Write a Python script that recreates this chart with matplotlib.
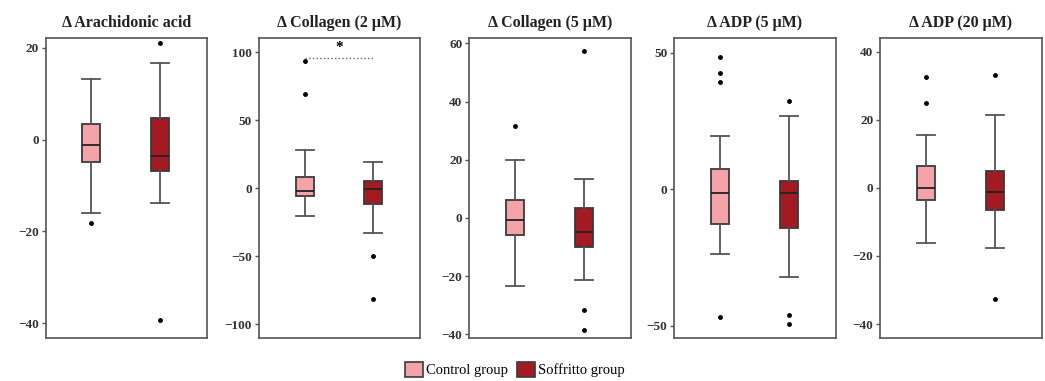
import matplotlib.pyplot as plt
from matplotlib.patches import Patch

plt.rcParams['font.family'] = ['Liberation Serif', 'DejaVu Serif']

titles = ["\u0394 Arachidonic acid", "\u0394 Collagen (2 \u03bcM)", "\u0394 Collagen (5 \u03bcM)",
          "\u0394 ADP (5 \u03bcM)", "\u0394 ADP (20 \u03bcM)"]
groups = ["Control group", "Soffritto group"]
colors = ["#f4a4a8", "#a31a22"]

# box stats per panel: [control, soffritto] -> (whislo, q1, med, q3, whishi)
ctrl_stats = [(-16.1, -4.9, -1.1, 3.3, 13.2),
              (-20.4, -6.2, -2.0, 8.1, 27.7),
              (-23.3, -5.7, -0.7, 6.3, 19.8),
              (-23.7, -12.6, -1.5, 7.3, 19.7),
              (-16.2, -3.6, 0.1, 6.4, 15.6)]
soff_stats = [(-13.9, -6.8, -3.6, 4.7, 16.7),
              (-33.2, -11.6, -0.7, 5.4, 18.9),
              (-21.5, -10.0, -4.8, 3.5, 13.4),
              (-32.3, -14.2, -1.4, 2.9, 26.7),
              (-17.7, -6.4, -1.2, 5.0, 21.3)]
ctrl_fliers = [[-18.1], [93.1, 69.3], [31.5], [48.4, 42.5, 39.5, -46.9], [32.6, 25.0]]
soff_fliers = [[21.0, -39.3], [-49.7, -81.9], [57.3, -31.7, -38.6], [32.4, -46.1, -49.5], [33.1, -32.7]]

yticks = [[-40, -20, 0, 20], [-100, -50, 0, 50, 100], [-40, -20, 0, 20, 40, 60],
          [-50, 0, 50], [-40, -20, 0, 20, 40]]
ylims = [(-43.3, 22), (-110.5, 110), (-41.4, 61.7), (-54.7, 55.3), (-44.2, 43.9)]

# significance bar in panel 2
sig_panel = 1
sig_y = 95.9
sig_label = "*"

lefts = [0.0437, 0.2478, 0.4491, 0.6453, 0.8424]
edge = "#3a3a3a"

fig = plt.figure(figsize=(10.45, 3.81), dpi=100)

for i in range(5):
    ax = fig.add_axes([lefts[i], 0.112, 0.1544, 0.787])
    stats = []
    for s, fl in ((ctrl_stats[i], ctrl_fliers[i]), (soff_stats[i], soff_fliers[i])):
        stats.append(dict(whislo=s[0], q1=s[1], med=s[2], q3=s[3], whishi=s[4], fliers=fl))
    bp = ax.bxp(stats, positions=[1, 2], widths=0.26, capwidths=0.26, patch_artist=True,
                boxprops=dict(edgecolor=edge, linewidth=1.3),
                whiskerprops=dict(color="#555555", linewidth=1.3),
                capprops=dict(color="#555555", linewidth=1.3),
                medianprops=dict(color="#222222", linewidth=1.3),
                flierprops=dict(marker='o', markersize=2.5, markerfacecolor='black',
                                markeredgecolor='black'))
    for patch, c in zip(bp['boxes'], colors):
        patch.set_facecolor(c)
    ax.set_xlim(0.335, 2.685)
    ax.set_ylim(*ylims[i])
    ax.set_yticks(yticks[i])
    ax.set_xticks([])
    ax.tick_params(axis='y', length=3, width=1, color="#555555", labelsize=9.5, pad=2)
    for lab in ax.get_yticklabels():
        lab.set_fontweight('bold')
        lab.set_color('#333333')
    for sp in ax.spines.values():
        sp.set_color("#555555")
        sp.set_linewidth(1.2)
    ax.set_title(titles[i], fontsize=11.5, fontweight='bold', pad=8, color='#222222')
    if i == sig_panel:
        ax.plot([1, 2], [sig_y, sig_y], linestyle=':', color='#666666', linewidth=1)
        ax.text(1.5, sig_y + 3, sig_label, ha='center', va='bottom', fontsize=11,
                fontweight='bold')

handles = [Patch(facecolor=c, edgecolor=edge, linewidth=1.2) for c in colors]
fig.legend(handles, groups, loc='center', bbox_to_anchor=(0.493, 0.03), ncol=2,
           frameon=False, fontsize=10.5, handlelength=1.2, handleheight=1.2,
           handletextpad=0.25, columnspacing=0.6)

fig.savefig("out.png", dpi=100)
